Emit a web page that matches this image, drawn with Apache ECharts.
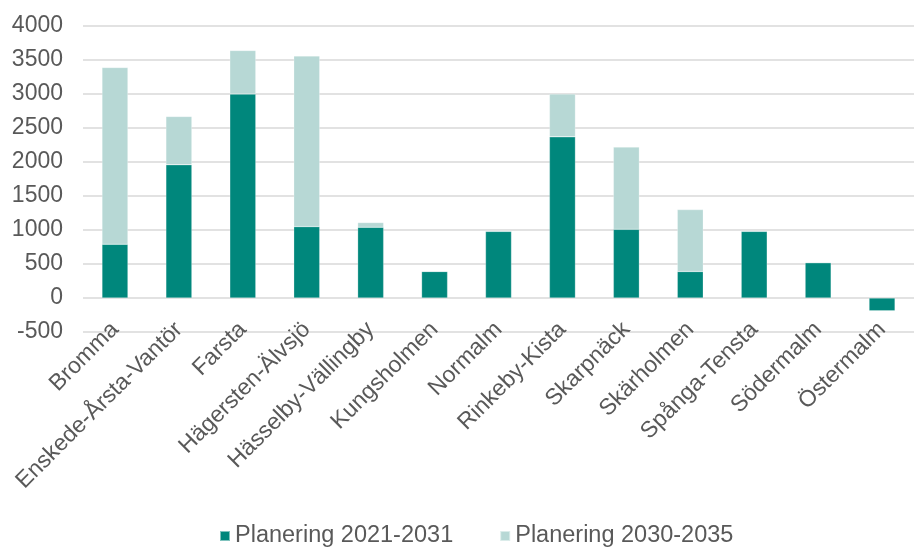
<!DOCTYPE html>
<html>
<head>
<meta charset="utf-8">
<script src="https://cdn.jsdelivr.net/npm/echarts@6/dist/echarts.min.js"></script>
<style>html,body{margin:0;padding:0;background:#fff}#c{width:914px;height:547px}</style>
</head>
<body>
<div id="c"></div>
<script>
const categories = ["Bromma","Enskede-Årsta-Vantör","Farsta","Hägersten-Älvsjö","Hässelby-Vällingby","Kungsholmen","Normalm","Rinkeby-Kista","Skarpnäck","Skärholmen","Spånga-Tensta","Södermalm","Östermalm"];
const plan2021 = [790, 1960, 3000, 1050, 1040, 390, 980, 2370, 1010, 390, 980, 520, -190];
const plan2030 = [2600, 710, 640, 2510, 70, 0, 0, 630, 1210, 910, 0, 0, 0];
const seriesNames = ["Planering 2021-2031", "Planering 2030-2035"];
const yTicks = { min: -500, max: 4000, interval: 500 };

const chart = echarts.init(document.getElementById('c'));
const font = 'Arial, "Liberation Sans", sans-serif';
chart.setOption({
  animation: false,
  grid: { left: 83, top: 26, width: 841, height: 306 },
  legend: {
    data: seriesNames,
    bottom: -6,
    left: 214,
    itemWidth: 10, itemHeight: 10, itemGap: 46,
    icon: 'rect',
    textStyle: { color: '#595959', fontSize: 23.5, fontFamily: font }
  },
  xAxis: {
    type: 'category',
    data: categories,
    axisLine: { show: false },
    axisTick: { show: false },
    axisLabel: { rotate: 45, interval: 0, color: '#595959', fontSize: 23, fontFamily: font, margin: -6 }
  },
  yAxis: {
    type: 'value',
    min: yTicks.min, max: yTicks.max, interval: yTicks.interval,
    axisLine: { show: false },
    axisTick: { show: false },
    axisLabel: { color: '#595959', fontSize: 23, fontFamily: font, margin: 20, formatter: v => String(v) },
    splitLine: { lineStyle: { color: '#D9D9D9', width: 1.5 } }
  },
  series: [
    { name: seriesNames[0], type: 'bar', stack: 's', data: plan2021, barWidth: 26,
      itemStyle: { color: '#00877C', borderColor: 'rgba(255,255,255,0.5)', borderWidth: 0.5 } },
    { name: seriesNames[1], type: 'bar', stack: 's', data: plan2030, barWidth: 26,
      itemStyle: { color: '#B7D8D5', borderColor: 'rgba(255,255,255,0.5)', borderWidth: 0.5 } }
  ]
});
</script>
</body>
</html>
